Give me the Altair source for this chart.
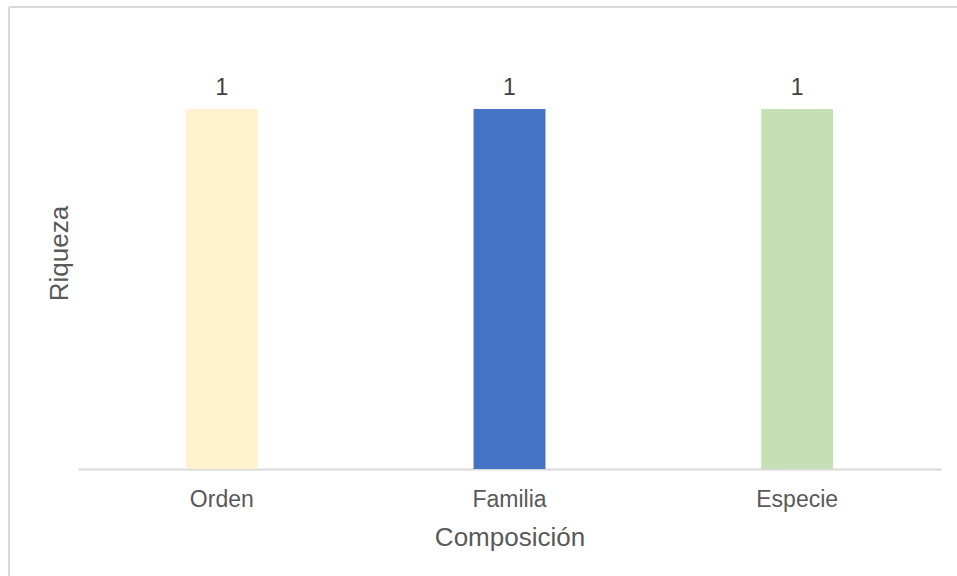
import altair as alt
import pandas as pd

# Richness by taxonomic level
categorias = ["Orden", "Familia", "Especie"]
riqueza = [1, 1, 1]
colores = ["#FFF2CC", "#4472C4", "#C5E0B4"]

df = pd.DataFrame({"Composición": categorias, "Riqueza": riqueza})

FONT = "Liberation Sans"
GRAY_TEXT = "#595959"
LINE = "#d9d9d9"

x_enc = alt.X(
    "Composición:N",
    sort=categorias,
    scale=alt.Scale(paddingInner=0.75, paddingOuter=0.375),
    axis=alt.Axis(
        labelAngle=0,
        labelFontSize=23,
        labelColor=GRAY_TEXT,
        labelFont=FONT,
        labelPadding=19,
        ticks=False,
        domainColor=LINE,
        domainWidth=2,
        titleFontSize=26,
        titleFont=FONT,
        titleColor=GRAY_TEXT,
        titleFontWeight="normal",
        titlePadding=13,
    ),
)
y_enc = alt.Y(
    "Riqueza:Q",
    scale=alt.Scale(domain=[0, 1.2]),
    axis=alt.Axis(
        labels=False,
        ticks=False,
        domain=False,
        grid=False,
        titleFontSize=26,
        titleFont=FONT,
        titleColor=GRAY_TEXT,
        titleFontWeight="normal",
        titlePadding=6,
    ),
)

bars = alt.Chart(df).mark_bar().encode(
    x=x_enc,
    y=y_enc,
    color=alt.Color(
        "Composición:N",
        scale=alt.Scale(domain=categorias, range=colores),
        legend=None,
    ),
)

labels = alt.Chart(df).mark_text(
    baseline="bottom", dy=-9, fontSize=23, font=FONT, color="#404040"
).encode(
    x=alt.X("Composición:N", sort=categorias),
    y="Riqueza:Q",
    text="Riqueza:Q",
)

# Outer frame of the chart area (left and top edges)
frame_left = alt.Chart(df).mark_rule(color=LINE, strokeWidth=2).encode(
    x=alt.value(-69), y=alt.value(-30), y2=alt.value(560)
)
frame_top = alt.Chart(df).mark_rule(color=LINE, strokeWidth=2).encode(
    x=alt.value(-69), x2=alt.value(900), y=alt.value(-30)
)

chart = (
    alt.layer(bars, labels, frame_left, frame_top)
    .properties(
        width=863,
        height=432,
        autosize=alt.AutoSizeParams(type="none"),
        padding={"left": 78, "top": 37, "right": 16, "bottom": 107},
    )
    .configure(background="white")
    .configure_view(strokeWidth=0, stroke="transparent")
)

chart.save("out.html", embed_options={"renderer": "svg", "actions": False})
